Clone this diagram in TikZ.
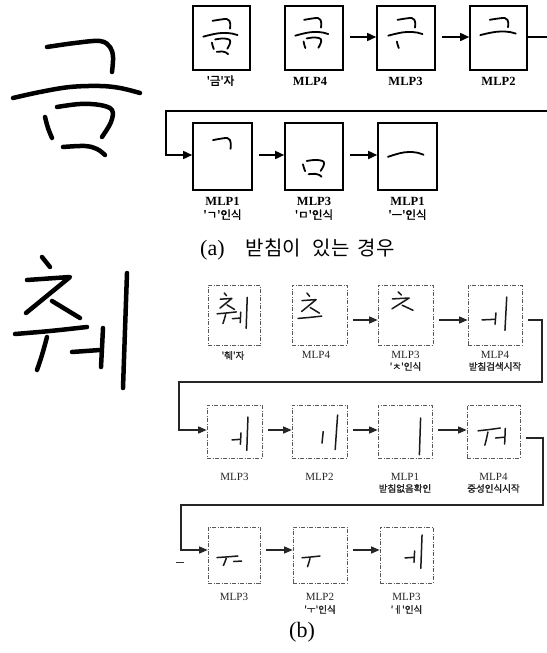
\documentclass[tikz,border=0pt]{standalone}
\usepackage{fontspec}
\setmainfont{Liberation Serif}
\newfontfamily\kr{Noto Sans CJK KR}
\newfontfamily\krb[FakeBold=1.5]{Noto Sans CJK KR}
\usetikzlibrary{arrows.meta}
% handwriting strokes
\newcommand\hs[1]{\draw plot[smooth,tension=.6] coordinates {#1};}
\newcommand\hwgK{\hs{(47,47) (75,43) (100,41) (110,47) (113,57) (112,72)}}
\newcommand\hwgH{\hs{(13,98) (40,92) (70,87) (100,86) (120,88) (140,93)}}
\newcommand\hwgML{\hs{(45,117) (48,128) (52,138)}}
\newcommand\hwgMT{\hs{(57,107) (80,104) (100,105) (112,110) (111,122) (102,137)}}
\newcommand\hwgMB{\hs{(63,147) (85,146) (97,149) (105,155)}}
\newcommand\hwcT{\hs{(42,257) (50,267)}}
\newcommand\hwcJ{\draw (27,280) -- (70,277) -- (26,313);}
\newcommand\hwcR{\hs{(52,301) (80,318)}}
\newcommand\hwuH{\hs{(15,334) (50,331) (87,327)}}
\newcommand\hwuV{\hs{(47,337) (42,355) (37,370)}}
\newcommand\hweH{\hs{(72,352) (100,350)}}
\newcommand\hweV{\hs{(103,328) (102,348) (101,367)}}
\newcommand\hwiV{\hs{(127,273) (125,330) (123,388)}}
\newcommand\hwat[7]{\begin{scope}[shift={(#1,#2)},xscale=#3,yscale=#4,shift={(-#5,-#6)}]#7\end{scope}}
\begin{document}
\begin{tikzpicture}[x=1pt,y=-1pt,
  abox/.style={draw,line width=1.6pt,inner sep=0pt},
  bbox/.style={draw=black!65,line width=0.7pt,dash pattern=on 4pt off 1.5pt on 1pt off 1.5pt,inner sep=0pt},
  conn/.style={line width=1.6pt},
  arr/.style={conn,-{Triangle[length=9pt,width=8pt]},shorten <=6pt},
  bconn/.style={line width=1.3pt,black!85},
  barr/.style={bconn,-{Triangle[length=8.5pt,width=7pt]},shorten <=6pt},
  hwbig/.style={line width=4.5pt,line cap=round,line join=round},
  hwa/.style={line width=1.8pt,line cap=round,line join=round},
  hwb/.style={line width=1.5pt,line cap=round,line join=round,black!90},
  labA/.style={font=\fontsize{12.5}{14}\selectfont\bfseries,inner sep=0pt,anchor=base},
  labAk/.style={font=\krb\fontsize{11.5}{13}\selectfont,inner sep=0pt,anchor=base},
  labB/.style={font=\fontsize{11}{13}\selectfont,inner sep=0pt,anchor=base,text=black!85},
  labBk/.style={font=\krb\fontsize{9.5}{11}\selectfont,inner sep=0pt,anchor=base,text=black!85},
  captxt/.style={inner sep=0pt,anchor=base west}
]
\useasboundingbox (0,0) rectangle (546,653);

% ---------- big characters ----------
\begin{scope}[hwbig]
  \hwgK \hwgH \hwgML \hwgMT \hwgMB
  \hwcT \hwcJ \hwcR \hwuH \hwuV \hweH \hweV \hwiV
\end{scope}

% ---------- (a) boxes ----------
\node[abox,minimum width=57pt,minimum height=64pt] (a1) at (221.5,38) {};
\node[abox,minimum width=58pt,minimum height=64pt] (a2) at (314,38) {};
\node[abox,minimum width=58pt,minimum height=64pt] (a3) at (406,38) {};
\node[abox,minimum width=57pt,minimum height=64pt] (a4) at (498.5,38) {};
\node[abox,minimum width=59pt,minimum height=67pt] (a5) at (222.5,156.5) {};
\node[abox,minimum width=58pt,minimum height=67pt] (a6) at (314,156.5) {};
\node[abox,minimum width=59pt,minimum height=67pt] (a7) at (407.5,156.5) {};

\begin{scope}[hwa]
  \hwat{203}{19}{.27}{.31}{12}{41}{\hwgK \hwgH \hwgML \hwgMT \hwgMB}
  \hwat{295}{18}{.26}{.31}{12}{41}{\hwgK \hwgH \hwgML \hwgMT}
  \hwat{388}{18}{.27}{.31}{12}{41}{\hwgK \hwgH \hwgML}
  \hwat{480}{18}{.28}{.30}{12}{41}{\hwgK \hwgH}
  \hwat{213}{138}{.27}{.35}{47}{41}{\hwgK}
  \hwat{303}{160}{.31}{.33}{45}{104}{\hwgML \hwgMT \hwgMB}
  \hwat{388}{152}{.28}{.40}{13}{86}{\hwgH}
\end{scope}

% (a) connectors
\coordinate (ya1) at (0,37);
\coordinate (ya2) at (0,155);
\coordinate (ra1) at (548,37);
\coordinate (ra2) at (548,111);
\coordinate (la2) at (166,111);
\draw[arr] (a2.east |- ya1) -- (a3.west |- ya1);
\draw[arr] (a3.east |- ya1) -- (a4.west |- ya1);
\draw[conn] (a4.east |- ya1) -- (ra1);
\draw[arr,shorten <=0pt] (ra2) -- (la2) |- (a5.west |- ya2);
\draw[arr] (a5.east |- ya2) -- (a6.west |- ya2);
\draw[arr] (a6.east |- ya2) -- (a7.west |- ya2);

% (a) labels
\node[labAk] (la1) at (220.5,85) {'금'자};
\node[labA] (la2) at (310,85) {MLP4};
\node[labA] (la3) at (405.5,85) {MLP3};
\node[labA] (la4) at (498.5,85) {MLP2};
\node[labA] (la5) at (222.5,205) {MLP1};
\node[labAk] (la5k) at (222.5,219) {'ㄱ'인식};
\node[labA] (la6) at (314,205) {MLP3};
\node[labAk] (la6k) at (314,219) {'ㅁ'인식};
\node[labA] (la7) at (407.5,205) {MLP1};
\node[labAk] (la7k) at (407.5,219) {'ㅡ'인식};
\node[captxt] (capa) at (200,255) {{\fontsize{22}{24}\selectfont (a)}\hspace{21pt}{\kr\fontsize{20}{22}\selectfont 받침이\hspace{12pt}있는\hspace{8pt}경우}};

% ---------- (b) boxes ----------
\node[bbox,minimum width=52pt,minimum height=60pt] (b1) at (234,315) {};
\node[bbox,minimum width=55pt,minimum height=60pt] (b2) at (319.5,315) {};
\node[bbox,minimum width=55pt,minimum height=60pt] (b3) at (405.5,315) {};
\node[bbox,minimum width=54pt,minimum height=60pt] (b4) at (495,315) {};
\node[bbox,minimum width=55pt,minimum height=53pt] (b5) at (234.5,431.5) {};
\node[bbox,minimum width=55pt,minimum height=53pt] (b6) at (319.5,431.5) {};
\node[bbox,minimum width=54pt,minimum height=53pt] (b7) at (405,431.5) {};
\node[bbox,minimum width=53pt,minimum height=53pt] (b8) at (493.5,431.5) {};
\node[bbox,minimum width=52pt,minimum height=56pt] (b9) at (234,555) {};
\node[bbox,minimum width=54pt,minimum height=56pt] (b10) at (320,555) {};
\node[bbox,minimum width=53pt,minimum height=56pt] (b11) at (406.5,555) {};

\begin{scope}[hwb]
  \hwat{217}{293}{.27}{.27}{15}{257}{\hwcT \hwcJ \hwcR \hwuH \hwuV \hweH \hweV \hwiV}
  \hwat{298}{293}{.33}{.33}{15}{257}{\hwcT \hwcJ \hwcR \hwuH}
  \hwat{392}{292}{.39}{.30}{26}{257}{\hwcT \hwcJ \hwcR}
  \hwat{482}{297}{.45}{.29}{72}{273}{\hweH \hweV \hwiV}
  \hwat{232}{417}{.29}{.29}{72}{273}{\hweH \hweV \hwiV}
  \hwat{322}{415}{.60}{.30}{101}{273}{\hweV \hwiV}
  \hwat{420}{418}{.30}{.32}{125}{273}{\hwiV}
  \hwat{478}{428}{.31}{.40}{15}{327}{\hwuH \hwuV \hweH \hweV}
  \hwat{217}{556}{.29}{.22}{15}{327}{\hwuH \hwuV \hweH}
  \hwat{302}{556}{.25}{.25}{15}{327}{\hwuH \hwuV}
  \hwat{405}{535}{.31}{.29}{72}{273}{\hweH \hweV \hwiV}
\end{scope}

% (b) connectors
\coordinate (yb1) at (0,320);
\coordinate (yb2) at (0,430);
\coordinate (yb2o) at (0,438);
\coordinate (yb3) at (0,550);
\coordinate (rb1) at (542,320);
\coordinate (rb1b) at (542,382);
\coordinate (lb1) at (179,382);
\coordinate (rb2) at (543,438);
\coordinate (rb2b) at (543,505);
\coordinate (lb2) at (181,505);
\draw[barr] (b2.east |- yb1) -- (b3.west |- yb1);
\draw[barr] (b3.east |- yb1) -- (b4.west |- yb1);
\draw[barr] (b4.east |- yb1) -- (rb1) -- (rb1b) -- (lb1) |- (b5.west |- yb2);
\draw[barr] (b5.east |- yb2) -- (b6.west |- yb2);
\draw[barr] (b6.east |- yb2) -- (b7.west |- yb2);
\draw[barr] (b7.east |- yb2) -- (b8.west |- yb2);
\draw[barr] (b8.east |- yb2o) -- (rb2) -- (rb2b) -- (lb2) |- (b9.west |- yb3);
\draw[barr] (b9.east |- yb3) -- (b10.west |- yb3);
\draw[barr] (b10.east |- yb3) -- (b11.west |- yb3);
\draw[line width=0.6pt,black!80] (176,562) -- (184,562);

% (b) labels
\node[labBk] (lb1) at (233,359) {'췌'자};
\node[labB] (lb2) at (316,358) {MLP4};
\node[labB] (lb3) at (405.5,358) {MLP3};
\node[labBk] (lb3k) at (405.5,370) {'ㅊ'인식};
\node[labB] (lb4) at (495,358) {MLP4};
\node[labBk] (lb4k) at (495,370) {받침검색시작};
\node[labB] (lb5) at (234.5,480) {MLP3};
\node[labB] (lb6) at (319.5,480) {MLP2};
\node[labB] (lb7) at (405,480) {MLP1};
\node[labBk] (lb7k) at (405,492) {받침없음확인};
\node[labB] (lb8) at (493.5,480) {MLP4};
\node[labBk] (lb8k) at (493.5,492) {중성인식시작};
\node[labB] (lb9) at (234,600) {MLP3};
\node[labB] (lb10) at (320,600) {MLP2};
\node[labBk] (lb10k) at (320,613) {'ㅜ'인식};
\node[labB] (lb11) at (406.5,600) {MLP3};
\node[labBk] (lb11k) at (406.5,613) {'ㅔ'인식};
\node[captxt,anchor=base] (capb) at (302,637) {\fontsize{22}{24}\selectfont (b)};
\end{tikzpicture}
\end{document}
